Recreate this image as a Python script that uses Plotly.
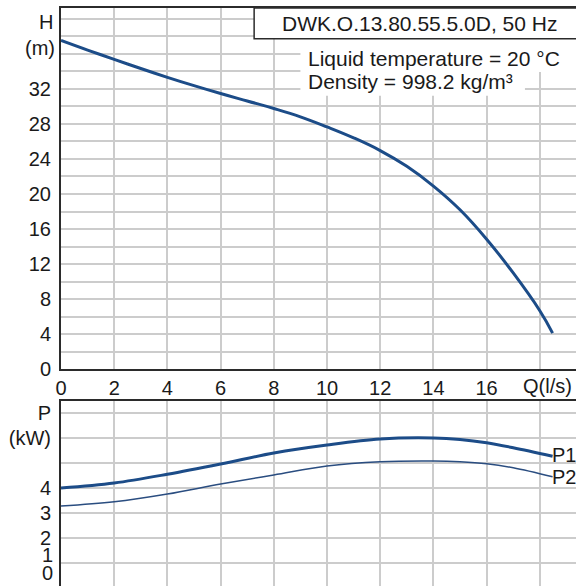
import plotly.graph_objects as go

# ---- data ----
q_h = [0, 1, 2, 3, 4, 5, 6, 7, 8, 9, 10, 11, 12, 13, 14, 15, 16, 17, 18, 18.48]
h = [37.5, 36.4, 35.35, 34.3, 33.3, 32.35, 31.45, 30.6, 29.75, 28.8, 27.65, 26.4, 24.95,
     23.15, 20.9, 18.2, 14.85, 11.0, 6.7, 4.15]

q_p = [0, 2, 4, 6, 8, 10, 12, 14, 15, 16, 17, 18.48]
p1 = [4.0, 4.2, 4.55, 4.96, 5.4, 5.72, 5.96, 6.0, 5.94, 5.81, 5.61, 5.27]
p2 = [3.28, 3.45, 3.76, 4.16, 4.52, 4.88, 5.05, 5.08, 5.05, 4.97, 4.81, 4.45]

x_ticks = [0, 2, 4, 6, 8, 10, 12, 14, 16, 18]
x_labels = ["0", "2", "4", "6", "8", "10", "12", "14", "16", ""]
h_ticks = list(range(0, 42, 2))
h_labels = [str(v) if (v % 4 == 0 and v <= 32) else "" for v in h_ticks]
p_ticks = [1, 2, 3, 4, 5, 6, 7]
p_labels = ["", "2", "3", "4", "", "(kW)", "P"]

title_text = "DWK.O.13.80.55.5.0D, 50 Hz"
info1 = "Liquid temperature = 20 °C"
info2 = "Density = 998.2 kg/m³"

# ---- styling ----
FONT = "Liberation Sans, Arial, sans-serif"
BLUE = "#1c4c88"
GRID = "#cccccc"
AXIS = "#2b2b2b"
TXT = "#1a1a1a"
XR = [0, 19.36]

fig = go.Figure()
fig.add_trace(go.Scatter(x=q_h, y=h, mode="lines", line=dict(color=BLUE, width=3, shape="spline", smoothing=1.2),
                         xaxis="x", yaxis="y", hoverinfo="skip"))
fig.add_trace(go.Scatter(x=q_p, y=p1, mode="lines", line=dict(color=BLUE, width=3, shape="spline"),
                         xaxis="x2", yaxis="y2", hoverinfo="skip"))
fig.add_trace(go.Scatter(x=q_p, y=p2, mode="lines", line=dict(color="#2a4d80", width=1.5, shape="spline"),
                         xaxis="x2", yaxis="y2", hoverinfo="skip"))

tickfont = dict(family=FONT, size=20, color=TXT)

fig.update_layout(
    width=576, height=586,
    margin=dict(l=61, r=0, t=8, b=0, autoexpand=False),
    paper_bgcolor="white", plot_bgcolor="white",
    showlegend=False,
    font=dict(family=FONT, size=20, color=TXT),
    xaxis=dict(domain=[0, 1], anchor="y", range=XR, tickvals=x_ticks, ticktext=x_labels,
               showgrid=True, gridcolor=GRID, gridwidth=1.5, zeroline=False,
               showline=True, linecolor=AXIS, linewidth=2, mirror=True,
               ticks="", tickfont=tickfont, ticklabelstandoff=0, automargin=False),
    yaxis=dict(domain=[0.3746, 1], anchor="x", range=[0, 41.2], tickvals=h_ticks, ticktext=h_labels,
               showgrid=True, gridcolor=GRID, gridwidth=1.5, zeroline=False,
               showline=True, linecolor=AXIS, linewidth=2,
               ticks="", tickfont=tickfont, ticklabelstandoff=4, automargin=False),
    xaxis2=dict(domain=[0, 1], anchor="y2", range=XR, tickvals=x_ticks, showticklabels=False,
                showgrid=True, gridcolor=GRID, gridwidth=1.5, zeroline=False,
                showline=True, linecolor=AXIS, linewidth=2, side="top", ticks="", automargin=False),
    yaxis2=dict(domain=[0, 0.3201], anchor="x2", range=[0.08, 7.48], tickvals=p_ticks, ticktext=p_labels,
                showgrid=True, gridcolor=GRID, gridwidth=1.5, zeroline=False,
                showline=True, linecolor=AXIS, linewidth=2,
                ticks="", tickfont=tickfont, ticklabelstandoff=4, automargin=False),
)

# info box and white backgrounds
fig.add_shape(type="rect", xref="x", yref="y", x0=7.26, x1=19.6, y0=37.7, y1=41.2,
              fillcolor="white", line=dict(color=AXIS, width=1.5), layer="above")
fig.add_shape(type="rect", xref="x", yref="y", x0=9.0, x1=19.6, y0=33.9, y1=37.7,
              fillcolor="white", line=dict(width=0), layer="between")
fig.add_shape(type="rect", xref="x", yref="y", x0=9.0, x1=17.44, y0=31.2, y1=33.9,
              fillcolor="white", line=dict(width=0), layer="between")

ann = []
ann.append(dict(text=title_text, xref="x", yref="y", x=13.46, y=39.45, xanchor="center", yanchor="middle",
                showarrow=False, font=dict(size=21)))
ann.append(dict(text=info1, xref="x", yref="y", x=9.21, y=35.5, xanchor="left", yanchor="middle",
                showarrow=False, font=dict(size=21)))
ann.append(dict(text=info2, xref="x", yref="y", x=9.21, y=32.78, xanchor="left", yanchor="middle",
                showarrow=False, font=dict(size=21)))
# axis name labels
ann.append(dict(text="H", xref="paper", yref="y", x=0, y=39.6, xanchor="right", yanchor="middle",
                xshift=-6, showarrow=False, font=dict(size=20)))
ann.append(dict(text="(m)", xref="paper", yref="y", x=0, y=36.6, xanchor="right", yanchor="middle",
                xshift=-4, showarrow=False, font=dict(size=20)))
ann.append(dict(text="Q(l/s)", xref="x", yref="y", x=18.27, y=0, xanchor="center", yanchor="middle",
                yshift=-17, showarrow=False, font=dict(size=20)))
ann.append(dict(text="1", xref="paper", yref="y2", x=0, y=1.32, xanchor="right", yanchor="middle",
                xshift=-6, showarrow=False, font=dict(size=20)))
ann.append(dict(text="0", xref="paper", yref="y2", x=0, y=0.6, xanchor="right", yanchor="middle",
                xshift=-6, showarrow=False, font=dict(size=20)))
ann.append(dict(text="P1", xref="x2", yref="y2", x=q_p[-1], y=5.32, xanchor="left", yanchor="middle",
                xshift=-3, showarrow=False, font=dict(size=20)))
ann.append(dict(text="P2", xref="x2", yref="y2", x=q_p[-1], y=4.44, xanchor="left", yanchor="middle",
                xshift=-3, showarrow=False, font=dict(size=20)))
fig.update_layout(annotations=ann)

fig.write_html("out.html", config={"displayModeBar": False},
               post_script="document.body.style.margin='0px';")
